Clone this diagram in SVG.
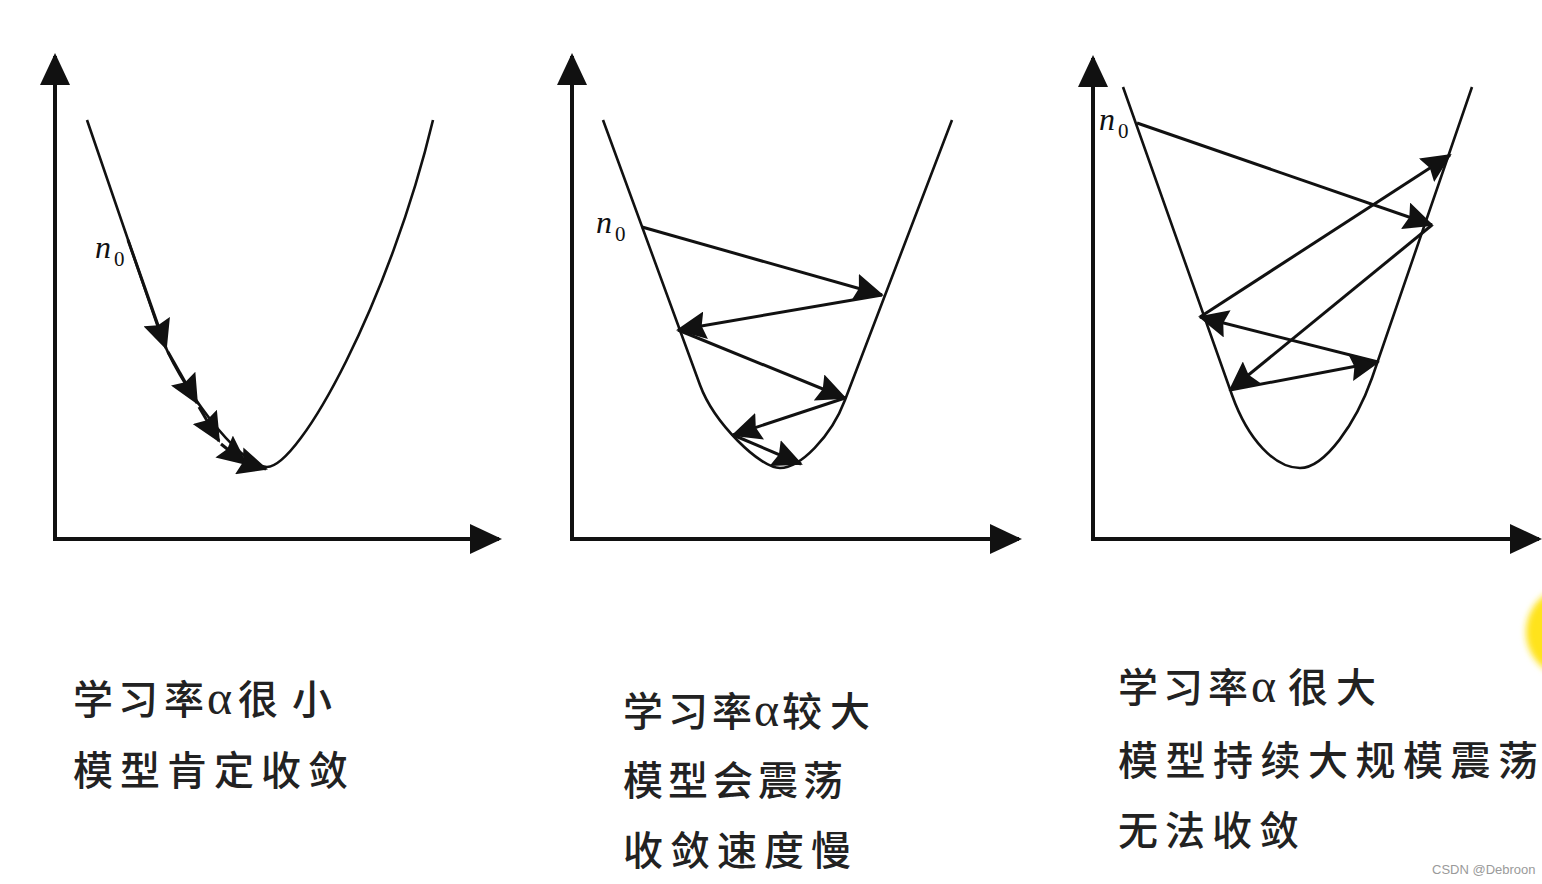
<svg xmlns="http://www.w3.org/2000/svg" width="1542" height="884" viewBox="0 0 1542 884">
<style>
.axis{fill:none;stroke:#111;stroke-width:4;marker-start:url(#axisHead);marker-end:url(#axisHead)}
.curve{fill:none;stroke:#111;stroke-width:2.6;stroke-linejoin:round}
.arr{fill:none;stroke:#111;stroke-width:3;marker-end:url(#head)}
.lab{font-family:"Liberation Serif",serif;fill:#111}
.n{font-size:32px;font-style:italic}
.sub{font-size:21px}
.cn{font-family:"Noto Sans CJK SC",sans-serif;font-size:40px;font-weight:500;fill:#222}
.al{font-family:"Liberation Serif",serif;font-size:48px;font-weight:normal}
.wm{font-family:"Liberation Sans",sans-serif;font-size:13px;fill:#9a9a9a}
</style>
<defs>
<marker id="axisHead" markerUnits="userSpaceOnUse" viewBox="0 0 32 30" refX="29" refY="15" markerWidth="32" markerHeight="30" orient="auto-start-reverse">
<path d="M0,0 L32,15 L0,30 z" fill="#111"/>
</marker>
<marker id="head" markerUnits="userSpaceOnUse" viewBox="0 0 30 28" refX="28" refY="14" markerWidth="30" markerHeight="28" orient="auto">
<path d="M0,0 L30,14 L0,28 L4,14 z" fill="#111"/>
</marker>
<filter id="soft" x="-50%" y="-50%" width="200%" height="200%"><feGaussianBlur stdDeviation="3"/></filter>
</defs>
<rect width="1542" height="884" fill="#fff"/>

<g id="panel1">
<path class="axis" d="M55,56 L55,539 L499,539"/>
<path class="curve" d="M87,120 L160,333 C177,383 240,467 267,467 C300,467 390,300 433,120"/>
<text class="lab" x="95" y="258"><tspan class="n">n</tspan><tspan class="sub" x="114" y="266">0</tspan></text>
</g>

<g id="panel2">
<path class="axis" d="M572,56 L572,539 L1019,539"/>
<path class="curve" d="M603,120 L700,385 C714,423 760,468 780,468 C800,468 831,437 845,400 L952,120"/>
<text class="lab" x="596" y="233"><tspan class="n">n</tspan><tspan class="sub" x="615" y="241">0</tspan></text>
</g>

<g id="panel3">
<path class="axis" d="M1093,58 L1093,539 L1539,539"/>
<path class="curve" d="M1123,87 L1232,395 C1248,440 1275,468 1300,468 C1325,468 1356,423 1372,378 L1472,87"/>
<text class="lab" x="1099" y="130"><tspan class="n">n</tspan><tspan class="sub" x="1118" y="138">0</tspan></text>
</g>

<g id="connectors">
<path class="arr" d="M128,240 L166,348"/>
<path class="arr" d="M168,352 L197,403"/>
<path class="arr" d="M199,407 L219,441"/>
<path class="arr" d="M221,444 L246,464"/>
<path class="arr" d="M240,461 L266,469"/>

<path class="arr" d="M642,227 L882,295"/>
<path class="arr" d="M882,295 L678,330"/>
<path class="arr" d="M678,330 L845,398"/>
<path class="arr" d="M845,398 L733,435"/>
<path class="arr" d="M733,435 L801,464"/>

<path class="arr" d="M1137,123 L1432,225"/>
<path class="arr" d="M1432,225 L1230,390"/>
<path class="arr" d="M1230,390 L1378,362"/>
<path class="arr" d="M1378,362 L1200,317"/>
<path class="arr" d="M1200,317 L1450,155"/>
</g>

<g id="caption1">
<text class="cn" y="714"><tspan x="73 118 164">学习率</tspan><tspan class="al" x="207">α</tspan><tspan x="238 292">很小</tspan></text>
<text class="cn" y="785" x="73 120 167 214 261 308">模型肯定收敛</text>
</g>
<g id="caption2">
<text class="cn" y="726"><tspan x="623 668 712">学习率</tspan><tspan class="al" x="754">α</tspan><tspan x="782 830">较大</tspan></text>
<text class="cn" y="795" x="623 668 713 758 803">模型会震荡</text>
<text class="cn" y="865" x="623 670 717 764 811">收敛速度慢</text>
</g>
<g id="caption3">
<text class="cn" y="702"><tspan x="1118 1163 1208">学习率</tspan><tspan class="al" x="1251">α</tspan><tspan x="1288 1336">很大</tspan></text>
<text class="cn" y="775" x="1118 1165.5 1213 1260.5 1308 1355.5 1403 1450.5 1498">模型持续大规模震荡</text>
<text class="cn" y="845" x="1118 1165 1212 1259">无法收敛</text>
</g>

<ellipse cx="1572" cy="632" rx="46" ry="46" fill="#FFE31A" filter="url(#soft)"/>
<text class="wm" x="1432" y="874">CSDN @Debroon</text>
</svg>
